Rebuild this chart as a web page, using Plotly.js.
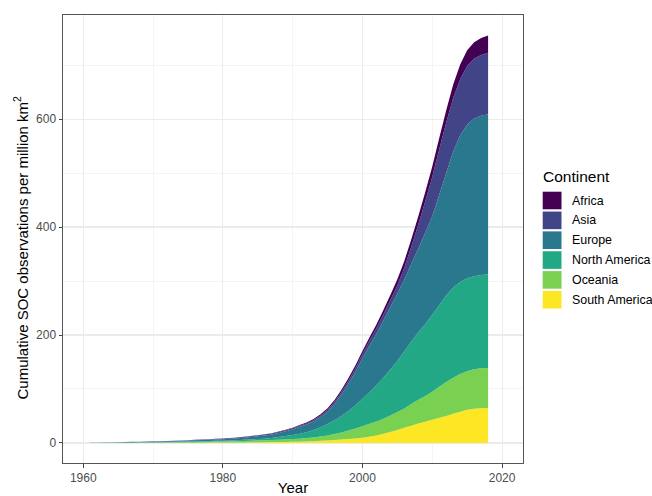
<!DOCTYPE html>
<html>
<head>
<meta charset="utf-8">
<script src="https://cdn.plot.ly/plotly-3.0.1.min.js"></script>
<style>html,body{margin:0;padding:0;background:#fff;}#chart{width:652px;height:496px;}</style>
</head>
<body>
<div id="chart"></div>
<script>
// Years 1961..2018
var years = [];
for (var y = 1961; y <= 2018; y++) years.push(y);

var continents = ["Africa", "Asia", "Europe", "North America", "Oceania", "South America"];
var colors = ["#440154", "#414487", "#2A788E", "#22A884", "#7AD151", "#FDE725"];

// cumulative SOC observations per million km2, by continent
var southAmerica = [0,0,0.1,0.1,0.1,0.1,0.2,0.2,0.2,0.3,
  0.3,0.4,0.4,0.5,0.5,0.6,0.6,0.7,0.7,0.8,
  0.9,1,1.1,1.2,1.3,1.4,1.6,1.7,1.9,2.1,
  2.4,2.8,3.3,3.9,4.6,5.4,6.3,7.3,8.4,9.6,
  11.5,14,17,20.5,24,28,32,36,39.5,43,
  46.5,50,54,58,61.5,63.5,64.5,65];
var oceania = [0.05,0.1,0.1,0.2,0.2,0.3,0.4,0.5,0.6,0.6,
  0.7,0.8,0.9,1.0,1.2,1.3,1.5,1.6,1.8,2.0,
  2.2,2.4,2.7,3.0,3.3,3.6,3.9,4.3,4.7,5.1,
  5.6,6.2,6.9,8.1,9.4,11.1,13.2,15.7,18.6,21.4,
  24,26,28,30.5,33.5,36,40,44,47.5,52,
  57.5,63,67,70,71.5,73,74,74];
var northAmerica = [0.1,0.2,0.25,0.3,0.4,0.45,0.5,0.55,0.6,0.7,
  0.75,0.8,0.9,1.0,1.05,1.1,1.2,1.3,1.4,1.5,
  1.6,1.8,2.0,2.3,2.6,3.0,3.5,5.0,6.2,7.5,
  9,11,13.8,17,21,25.5,30.5,36,43,51,
  58.5,67,76,85,94.5,106,116,125,133,143,
  151,160,167,170,172,172.5,172.5,173];
var europe = [0.1,0.2,0.3,0.4,0.5,0.6,0.7,0.8,0.9,1.0,
  1.1,1.25,1.4,1.55,1.7,1.9,2.1,2.3,2.5,2.8,
  3.1,3.5,4.0,4.6,5.2,5.9,6.7,7.6,8.8,10.3,
  13,14,16,19,23,30,40,51,62,75,
  86,95,106,116,125,133,144,155,170,182,
  205,227,252,272,285,292,295,297];
var asia = [0.02,0.05,0.08,0.1,0.15,0.2,0.25,0.3,0.35,0.4,
  0.45,0.5,0.55,0.6,0.65,0.7,0.8,0.9,1.0,1.1,
  1.2,1.3,1.4,1.5,1.6,1.7,1.8,1.9,2.0,2.1,
  2.1,2.3,2.6,3.0,3.5,4.2,5.0,5.9,6.9,8.1,
  9.2,10.3,11.5,12.8,15.2,21.7,31.5,44.5,58,73,
  84,93.5,99,104,108.5,111,112.5,114];
var africa = [0,0,0,0,0.05,0.05,0.05,0.05,0.1,0.1,
  0.1,0.1,0.1,0.15,0.15,0.15,0.2,0.2,0.2,0.25,
  0.3,0.3,0.35,0.4,0.45,0.5,0.6,0.7,0.8,0.9,
  1.2,1.5,1.8,2.2,2.7,3.2,3.8,4.4,5.0,5.5,
  6,7,8,9.5,11,12.5,14,15.5,17,19,
  21,23,25,27,29,30.5,31.5,32];

var seriesByContinent = {
  "Africa": africa, "Asia": asia, "Europe": europe,
  "North America": northAmerica, "Oceania": oceania, "South America": southAmerica
};

var xTicks = [1960, 1980, 2000, 2020];
var yTicks = [0, 200, 400, 600];

// stack bottom-up: last level at bottom
var traces = [];
for (var i = continents.length - 1; i >= 0; i--) {
  traces.push({
    type: "scatter", mode: "none", x: years, y: seriesByContinent[continents[i]],
    stackgroup: "one", fillcolor: colors[i], name: continents[i],
    hoverinfo: "skip", showlegend: false
  });
}

var FONT = "Liberation Sans, Arial, Helvetica, sans-serif";
var L = 63, R = 523, T = 15, B = 463, W = 652, H = 496;
function px(x) { return (x - L) / (R - L); }
function py(y) { return (B - y) / (B - T); }

var shapes = [], annotations = [];
annotations.push({xref: "paper", yref: "paper", x: px(541), y: py(176), xanchor: "left", yanchor: "middle",
  text: "Continent", showarrow: false, font: {family: FONT, size: 15.5, color: "#000"}});
for (var k = 0; k < continents.length; k++) {
  var cy = 200.5 + k * 19.85;
  shapes.push({type: "rect", xref: "paper", yref: "paper", x0: px(542.7), x1: px(561.5),
    y0: py(cy - 8.8), y1: py(cy + 8.8), fillcolor: colors[k], line: {width: 0}});
  annotations.push({xref: "paper", yref: "paper", x: px(569.5), y: py(cy), xanchor: "left", yanchor: "middle",
    text: continents[k], showarrow: false, font: {family: FONT, size: 12.4, color: "#000"}});
}
// y-axis title
annotations.push({xref: "paper", yref: "paper", x: px(20.5), y: py(248), xanchor: "center", yanchor: "middle",
  textangle: -90, text: "Cumulative SOC observations per million km<sup>2</sup>", showarrow: false,
  font: {family: FONT, size: 15, color: "#000"}});

var axisCommon = {
  showgrid: true, gridcolor: "#EBEBEB", gridwidth: 1.1, zeroline: false,
  showline: true, mirror: true, linecolor: "#555555", linewidth: 1,
  ticks: "outside", ticklen: 3.5, tickwidth: 1, tickcolor: "#444444",
  tickfont: {family: FONT, size: 12, color: "#4D4D4D"}
};

var layout = {
  width: W, height: H, paper_bgcolor: "#fff", plot_bgcolor: "#fff",
  margin: {l: L, r: W - R, t: T, b: H - B, pad: 0},
  showlegend: false,
  xaxis: Object.assign({}, axisCommon, {
    range: [1957.1, 2023.0], tickmode: "array", tickvals: xTicks, ticktext: xTicks.map(String),
    minor: {tickmode: "array", tickvals: [1970, 1990, 2010], showgrid: true, gridcolor: "#EBEBEB", gridwidth: 0.55, ticks: ""},
    title: {text: "Year", font: {family: FONT, size: 15, color: "#000"}, standoff: 6}
  }),
  yaxis: Object.assign({}, axisCommon, {
    range: [-37.1, 792.8], tickmode: "array", tickvals: yTicks, ticktext: yTicks.map(String),
    minor: {tickmode: "array", tickvals: [100, 300, 500, 700], showgrid: true, gridcolor: "#EBEBEB", gridwidth: 0.55, ticks: ""}
  }),
  shapes: shapes, annotations: annotations
};

Plotly.newPlot("chart", traces, layout, {staticPlot: true, displayModeBar: false});
</script>
</body>
</html>
